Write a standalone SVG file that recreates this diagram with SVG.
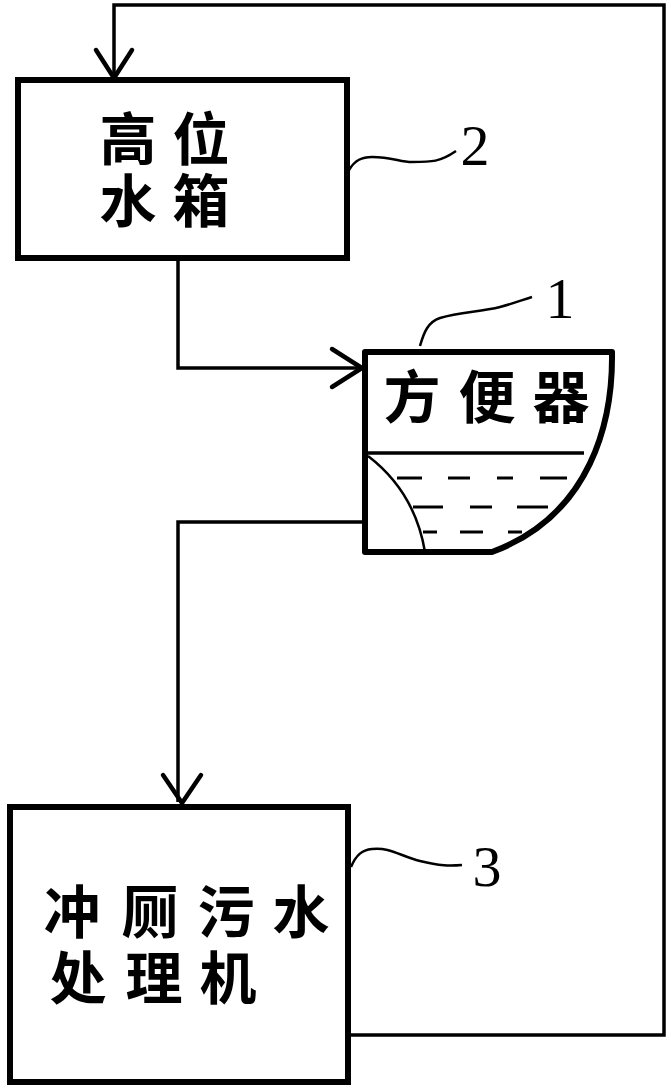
<svg xmlns="http://www.w3.org/2000/svg" width="671" height="1088" viewBox="0 0 671 1088">
<style>
.box{fill:#fff;stroke:#000;stroke-width:6}
.ln{fill:none;stroke:#000;stroke-width:3.5}
.lead{fill:none;stroke:#000;stroke-width:2.5}
.ah{fill:none;stroke:#000;stroke-width:4.5;stroke-linecap:round}
.cjk{font-family:"Noto Sans CJK SC","Noto Sans CJK JP",sans-serif;font-weight:bold;font-size:57px;text-anchor:middle;fill:#000}
.num{font-family:"Liberation Serif",serif;font-size:58px;text-anchor:middle;fill:#000}
.dash{stroke:#000;stroke-width:3}
</style>
<rect width="671" height="1088" fill="#fff"/>
<g id="connectors">
<polyline class="ln" points="350,1035 664,1035 664,5 114,5 114,78"/>
<polyline class="ah" points="96,50 114,78 132,50"/>
<polyline class="ln" points="178,258 178,368 362,368"/>
<polyline class="ah" points="332,349 362,368 332,387"/>
<polyline class="ln" points="365,522 178,522 178,802"/>
<polyline class="ah" points="163,775 182,803 201,775"/>
</g>
<g id="node2">
<rect class="box" x="18" y="80" width="329" height="178"/>
<text class="cjk" x="128" y="160">高</text>
<text class="cjk" x="201" y="160">位</text>
<text class="cjk" x="128" y="222">水</text>
<text class="cjk" x="201" y="222">箱</text>
<path class="lead" d="M349,170 C355,160 362,157 372,157 C392,157 400,162 412,162 C432,162 440,162 456,151"/>
<text class="num" x="475" y="165">2</text>
</g>
<g id="node1">
<path d="M365,352 L612,352 C613,420 592,515 492,552 L365,552 Z" fill="#fff" stroke="#000" stroke-width="6" stroke-linejoin="round"/>
<line class="ln" x1="365" y1="453" x2="584" y2="453" stroke-width="3"/>
<path class="lead" d="M368,456 Q415,492 425,552" stroke-width="3"/>
<line class="dash" x1="397" y1="478" x2="422" y2="478"/>
<line class="dash" x1="448" y1="478" x2="470" y2="478"/>
<line class="dash" x1="497" y1="478" x2="513" y2="478"/>
<line class="dash" x1="540" y1="478" x2="567" y2="478"/>
<line class="dash" x1="413" y1="507" x2="443" y2="507"/>
<line class="dash" x1="470" y1="507" x2="492" y2="507"/>
<line class="dash" x1="517" y1="507" x2="548" y2="507"/>
<line class="dash" x1="423" y1="532" x2="437" y2="532"/>
<line class="dash" x1="460" y1="532" x2="483" y2="532"/>
<line class="dash" x1="508" y1="532" x2="522" y2="532"/>
<text class="cjk" x="412" y="418">方</text>
<text class="cjk" x="487" y="418">便</text>
<text class="cjk" x="561" y="418">器</text>
<path class="lead" d="M420,346 C424,332 428,322 440,318 C460,312 480,312 500,307 C515,303 522,300 532,297"/>
<text class="num" x="560" y="318">1</text>
</g>
<g id="node3">
<rect class="box" x="10" y="807" width="338" height="275"/>
<text class="cjk" x="72" y="933">冲</text>
<text class="cjk" x="150" y="933">厕</text>
<text class="cjk" x="226" y="933">污</text>
<text class="cjk" x="301" y="933">水</text>
<text class="cjk" x="78" y="999">处</text>
<text class="cjk" x="154" y="999">理</text>
<text class="cjk" x="228" y="999">机</text>
<path class="lead" d="M351,867 C356,855 362,850 372,849 C390,847 400,856 420,861 C440,866 450,866 462,865"/>
<text class="num" x="487" y="886">3</text>
</g>
</svg>
